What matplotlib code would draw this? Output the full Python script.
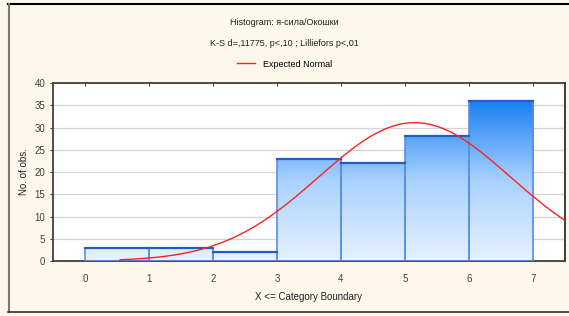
import numpy as np
import matplotlib.pyplot as plt
from matplotlib.colors import LinearSegmentedColormap
from matplotlib.lines import Line2D

plt.rcParams['font.family'] = ['Liberation Sans Narrow', 'Liberation Sans', 'DejaVu Sans']

# histogram data
bin_edges = [0, 1, 2, 3, 4, 5, 6, 7]
counts = [3, 3, 2, 23, 22, 28, 36]
x_ticks = [0, 1, 2, 3, 4, 5, 6, 7]
y_ticks = [0, 5, 10, 15, 20, 25, 30, 35, 40]

# fitted normal
norm_mean = 5.15
norm_sd = 1.5
curve_start = 0.55
curve_end = 7.5

title_lines = ['Histogram: я-сила/Окошки',
               'K-S d=,11775, p<,10 ; Lilliefors p<,01']

bg = '#fdf8ec'
fig = plt.figure(figsize=(5.69, 3.16), dpi=100, facecolor=bg)
ax = fig.add_axes([0.093, 0.174, 0.900, 0.563])
ax.set_facecolor('white')

cmap = LinearSegmentedColormap.from_list('bar', ['#e6f2ff', '#a9d2ff', '#1a80f0'])
ymax = 40
for left, right, c in zip(bin_edges[:-1], bin_edges[1:], counts):
    grad = np.linspace(0, c / 36.0, 100).reshape(-1, 1)
    im = ax.imshow(grad, extent=[left, right, 0, c], origin='lower', aspect='auto',
                   cmap=cmap, vmin=0, vmax=1, zorder=2)
    rect = plt.Rectangle((left, 0), right - left, c, facecolor='none',
                         edgecolor='#5b8fdf', lw=1.2, zorder=3)
    ax.add_patch(rect)
    im.set_clip_path(rect)
    ax.plot([left, right], [c, c], color='#1f5ccc', lw=1.6, zorder=4)

xs = np.linspace(curve_start, curve_end, 300)
n_total = sum(counts)
ys = n_total * np.exp(-0.5 * ((xs - norm_mean) / norm_sd) ** 2) / (norm_sd * np.sqrt(2 * np.pi))
ax.plot(xs, ys, color='#ff2020', lw=1.0, zorder=5)

ax.set_xlim(-0.5, 7.5)
ax.set_ylim(0, ymax)
ax.set_xticks(x_ticks)
ax.set_yticks(y_ticks)
ax.yaxis.grid(True, color='#d4d4d4', lw=0.9, zorder=1)
ax.set_axisbelow(True)
ax.tick_params(axis='x', direction='in', top=True, length=2, labelsize=7, colors='#404040', pad=9)
ax.tick_params(axis='y', direction='out', length=2, labelsize=7, colors='#404040')
right_ax = ax.secondary_yaxis('right')
right_ax.set_yticks(y_ticks)
right_ax.tick_params(direction='in', length=3, labelright=False, colors='#404040')
right_ax.spines['right'].set_color('#404040')
right_ax.spines['right'].set_linewidth(1.3)
for s in ax.spines.values():
    s.set_color('#404040')
    s.set_linewidth(1.3)

ax.set_xlabel('X <= Category Boundary', fontsize=7, color='#202020', labelpad=6)
ax.set_ylabel('No. of obs.', fontsize=7, color='#202020', labelpad=4)

fig.text(0.5, 0.928, title_lines[0], ha='center', va='center', fontsize=6.5, color='#202020')
fig.text(0.5, 0.862, title_lines[1], ha='center', va='center', fontsize=6.5, color='#202020')
leg_handle = Line2D([], [], color='#ff2020', lw=1.0)
fig.legend([leg_handle], ['Expected Normal'], loc='center', bbox_to_anchor=(0.5, 0.797),
           frameon=False, fontsize=6.5, handlelength=2.0, handletextpad=0.8)

# outer frame
fig.add_artist(Line2D([0.014, 1.0], [0.987, 0.987], color='black', lw=1.5))
fig.add_artist(Line2D([0.015, 0.015], [0.012, 0.987], color='#7a7a72', lw=1.5))
fig.add_artist(Line2D([0.014, 1.0], [0.012, 0.012], color='#303030', lw=1.2))

fig.savefig('out.png', dpi=100, facecolor=bg)
